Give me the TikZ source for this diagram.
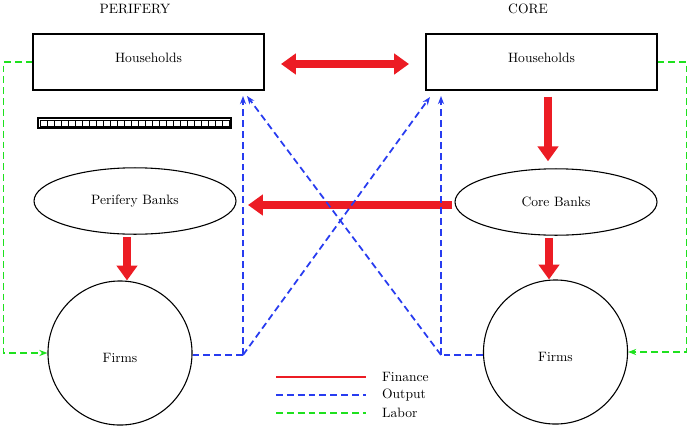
\documentclass[tikz,border=0pt]{standalone}
\usepackage{tikz}
\usetikzlibrary{arrows.meta, shapes.geometric, calc}

\definecolor{finred}{RGB}{236,28,36}
\definecolor{outblue}{RGB}{40,60,240}
\definecolor{labgreen}{RGB}{30,225,30}

\tikzset{
    sector/.style={draw, thick, minimum width=5.98cm, minimum height=1.45cm, text depth=6pt},
    bank/.style={draw, thick, ellipse, minimum width=5.23cm, minimum height=1.72cm},
    firm/.style={draw, thick, circle, minimum size=3.73cm, text height=14pt},
    longdash/.style={dash pattern=on 5pt off 3pt},
    finance/.style={finred, line width=6.5pt, -{Triangle[length=11pt, width=15pt]}},
    output/.style={outblue, line width=1.3pt, longdash, -{Stealth[length=6pt, width=4.5pt]}},
    labor/.style={labgreen, line width=1.2pt, longdash, -{Stealth[length=6pt, width=4.5pt]}}
}

\begin{document}
\begin{tikzpicture}[x=0.0259cm, y=-0.0259cm]
    \useasboundingbox (0,0) rectangle (688,427);

    \node (pt) at (135,9) {PERIFERY};
    \node (ct) at (528,9) {CORE};

    \node[sector] (ph) at (148.5,62) {Households};
    \node[sector] (ch) at (541.5,62) {Households};

    \node[bank] (pb) at (135,201) {Perifery Banks};
    \node[bank] (cb) at (556,202) {Core Banks};

    \node[firm] (pf) at (120,353) {Firms};
    \node[firm] (cf) at (555.5,352) {Firms};

    % barrier under periphery households
    \draw[thick] (38,118) rectangle (231,128);
    \draw (40,120) rectangle (229,126);
    \foreach \x in {47,54,...,225}
        \draw (\x,120) -- (\x,126);

    % finance flows
    \draw[finance, {Triangle[length=11pt, width=15pt]}-{Triangle[length=11pt, width=15pt]}] (281,64) -- (409,64);
    \coordinate (cbw) at ($(cb.west)+(-2,3)$);
    \draw[finance] (cbw) -- (cbw -| 248,0);
    \draw[finance] ($(ch.south)+(6.5,6)$) -- ($(cb.north)+(-8,-7)$);
    \draw[finance] ($(pb.south)+(-8,2)$) -- ($(pf.north)+(7,0)$);
    \draw[finance] ($(cb.south)+(-7,2)$) -- ($(cf.north)+(-6.5,0)$);

    % output flows
    \coordinate (po) at (243,355);
    \coordinate (co) at (441,355);
    \draw[output, -] (pf.east |- po) -- (po);
    \draw[output] (po) -- (243,96);
    \draw[output] (po) -- (430,97);
    \draw[output, -] (cf.west |- co) -- (co);
    \draw[output] (co) -- (441,96);
    \draw[output] (co) -- (247,96);

    % labor flows
    \draw[labor] (ph.west) -- ++(-29,0) |- (pf.west);
    \draw[labor] (ch.east) -- ++(29,0) |- (cf.east);

    % legend
    \draw[finred, line width=1.1pt] (276,377) -- (366,377) node[right=8pt, black] (lf) {Finance};
    \draw[outblue, line width=1.1pt, longdash] (276,395) -- (366,395) node[right=8pt, black] (lo) {Output};
    \draw[labgreen, line width=1.1pt, longdash] (276,413) -- (366,413) node[right=8pt, black] (ll) {Labor};
\end{tikzpicture}
\end{document}
